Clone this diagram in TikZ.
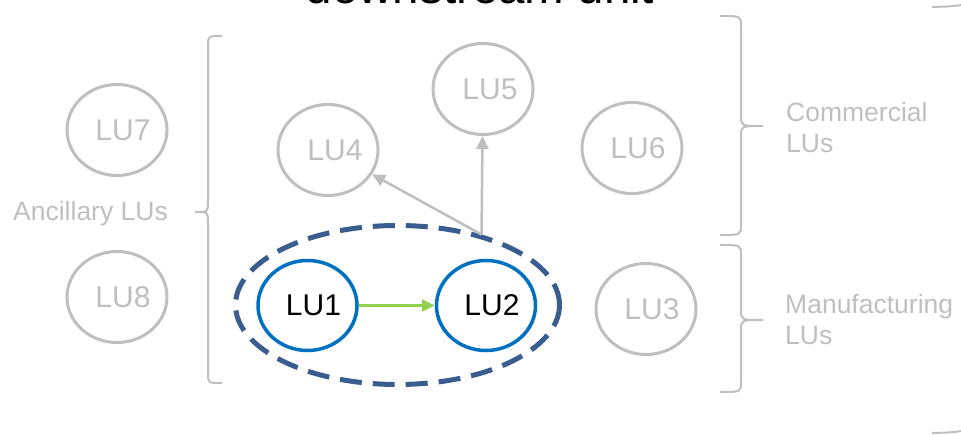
\documentclass[tikz,border=0pt]{standalone}
\usepackage{fontspec}
\setmainfont{Liberation Sans}
\usetikzlibrary{shapes.geometric,arrows.meta}
\definecolor{lgray}{HTML}{BFBFBF}
\definecolor{lublue}{HTML}{0070C0}
\definecolor{grpblue}{HTML}{395D8E}
\definecolor{lgreen}{HTML}{92D050}
\begin{document}
\begin{tikzpicture}[x=1pt,y=-1pt,
  luG/.style={ellipse, draw=lgray, line width=3pt, minimum width=100pt, minimum height=91pt, inner sep=0pt},
  luB/.style={ellipse, draw=lublue, line width=3.5pt, minimum width=99pt, minimum height=90pt, inner sep=0pt},
  lutxt/.style={text=lgray, inner sep=0pt, font=\fontsize{30}{36}\selectfont},
  lubtxt/.style={text=black, inner sep=0pt, font=\fontsize{30}{36}\selectfont},
  grpbox/.style={ellipse, draw=grpblue, line width=5pt, dash pattern=on 22pt off 11pt, minimum width=324pt, minimum height=159pt, inner sep=0pt},
  lbl/.style={text=lgray, inner sep=0pt, font=\fontsize{26.5}{31.5}\selectfont},
  bracel/.style={draw=lgray, line width=2pt},
  garr/.style={draw=lgray, line width=2.5pt, -{Triangle[length=13pt,width=12pt]}},
  greenarr/.style={draw=lgreen, line width=2.5pt, -{Triangle[length=13pt,width=12pt]}}
]
\useasboundingbox (0,0) rectangle (961,435);
\clip (0,0) rectangle (961,435);

\node[anchor=base, font=\fontsize{47.5}{52}\selectfont, inner sep=0pt] (title) at (480,4) {downstream unit};

\node[grpbox] (grp) at (397.5,305) {};

\node[luG, label={[lutxt,xshift=6pt]center:LU7}] (lu7) at (117,130) {};
\node[luG, label={[lutxt,xshift=6pt]center:LU8}] (lu8) at (117,297) {};
\node[luG, label={[lutxt,xshift=7pt]center:LU4}] (lu4) at (328,150) {};
\node[luG, label={[lutxt,xshift=7pt]center:LU5}] (lu5) at (483,89) {};
\node[luG, label={[lutxt,xshift=6pt]center:LU6}] (lu6) at (632,148) {};
\node[luG, label={[lutxt,xshift=6pt]center:LU3}] (lu3) at (646,309) {};

\node[luB, label={[lubtxt,xshift=6pt]center:LU1}] (lu1) at (307.5,305.5) {};
\node[luB, label={[lubtxt,xshift=6pt]center:LU2}] (lu2) at (486,305.5) {};

\coordinate (src) at (grp.40);
\draw[garr] (src) -- (lu5);
\draw[garr] (src) -- (lu4);
\draw[greenarr] (lu1) -- (lu2);

% braces
\draw[bracel] (222,36) .. controls (208,36) .. (208,46) -- (208,202) .. controls (208,212) .. (195,212)
  .. controls (208,212) .. (208,222) -- (208,373) .. controls (208,383) .. (222,383);
\draw[bracel] (720,16) .. controls (741,16) .. (741,26) -- (741,116) .. controls (741,126) .. (763,126)
  .. controls (741,126) .. (741,136) -- (741,225) .. controls (741,235) .. (720,235);
\draw[bracel] (720,245) .. controls (741,245) .. (741,255) -- (741,310) .. controls (741,320) .. (763,320)
  .. controls (741,320) .. (741,330) -- (741,382) .. controls (741,392) .. (720,392);
\draw[bracel] (932,7) .. controls (950,6.5) .. (962,5);
\draw[bracel] (932,433) .. controls (950,432.5) .. (962,431);

\node[lbl, anchor=base west] (anc) at (13,221) {Ancillary LUs};
\node[lbl, anchor=base west, align=left] (com) at (786,153) {Commercial\\LUs};
\node[lbl, anchor=base west, align=left] (man) at (785,345) {Manufacturing\\LUs};
\end{tikzpicture}
\end{document}
